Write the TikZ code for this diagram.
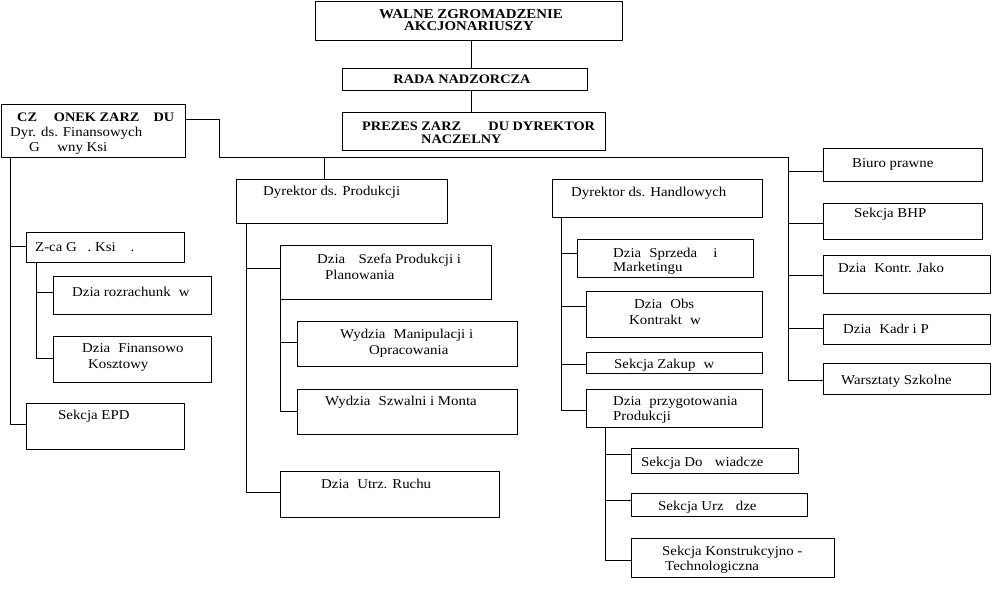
\documentclass[tikz,border=0pt]{standalone}
\usepackage{fontspec}
\setmainfont[FakeStretch=1.1]{Liberation Serif}
\newcommand\obox[5]{\node[box, minimum width={(#4-#2)*1pt}, minimum height={(#5-#3)*1pt}] (#1) at ({(#2+#4)/2},{(#3+#5)/2}) {};}
\newcommand\tx[4]{\node[txt] (#1) at (#2,{#3+4.5}) {#4};}
\newcommand\btx[4]{\node[btxt] (#1) at (#2,{#3+4.5}) {#4};}
\newcommand\br[3]{\path ([yshift=-#2pt]#1.north west) coordinate (tmp); \draw[conn] (tmp) -- (tmp -| #3);}
\begin{document}
\begin{tikzpicture}[x=1pt,y=-1pt,
  box/.style={draw, line width=0.8pt, inner sep=0pt, rectangle},
  txt/.style={anchor=base west, inner sep=0pt, font=\fontsize{13.5}{15}\selectfont},
  btxt/.style={txt, font=\fontsize{13}{15}\selectfont\bfseries},
  conn/.style={line width=0.8pt}]
\useasboundingbox[fill=white] (0,0) rectangle (996,591);
% top
\obox{walne}{315}{1}{622}{40}
\obox{rada}{342}{68}{587}{90}
\obox{prezes}{342}{112}{605}{150}
\obox{czlonek}{1}{104}{185}{157}
% left
\obox{zca}{26}{232}{184}{262}
\obox{rozr}{53}{276}{211}{314}
\obox{fin}{53}{336}{211}{382}
\obox{epd}{26}{403}{184}{449}
% production
\obox{dprod}{236}{179}{447}{223}
\obox{szef}{280}{245}{491}{299}
\obox{manip}{297}{321}{517}{366}
\obox{szwal}{297}{389}{517}{434}
\obox{utrz}{280}{471}{499}{517}
% trade
\obox{dhand}{552}{179}{762}{217}
\obox{sprz}{577}{239}{753}{277}
\obox{obsl}{586}{291}{762}{337}
\obox{zak}{586}{352}{762}{373}
\obox{przyg}{586}{389}{762}{427}
\obox{dosw}{631}{448}{798}{473}
\obox{urz}{631}{493}{807}{516}
\obox{konst}{631}{538}{834}{577}
% right
\obox{biuro}{823}{148}{982}{181}
\obox{bhp}{823}{203}{982}{239}
\obox{kontr}{823}{255}{990}{293}
\obox{kadr}{823}{314}{990}{344}
\obox{warsz}{823}{363}{990}{394}

% texts
\node[btxt, anchor=base, font=\fontsize{13.5}{15}\selectfont\bfseries] (twal1) at (471,18.5) {WALNE ZGROMADZENIE};
\node[btxt, anchor=base, font=\fontsize{13.5}{15}\selectfont\bfseries] (twal2) at (469,31) {AKCJONARIUSZY};
\node[btxt, anchor=base] (trada) at (462,84) {RADA NADZORCZA};
\btx{tprez1}{362}{126}{PREZES ZARZ\hspace{2.1em}DU DYREKTOR}
\btx{tprez2}{421}{139}{NACZELNY}
\btx{tczl1}{17}{117}{CZ\hspace{1.3em}ONEK ZARZ\hspace{1.1em}DU}
\tx{tczl2}{10}{132}{Dyr. ds. Finansowych}
\tx{tczl3}{29}{147}{G\hspace{1.3em}wny Ksi}
\tx{tzca}{35}{247}{Z-ca G\hspace{0.8em}. Ksi\hspace{1.1em}.}
\tx{trozr}{72}{292}{Dzia rozrachunk\hspace{0.6em}w}
\tx{tfin1}{82}{348}{Dzia\hspace{0.6em}Finansowo}
\tx{tfin2}{88}{364}{Kosztowy}
\tx{tepd}{58}{415}{Sekcja EPD}
\tx{tdprod}{263}{191}{Dyrektor ds. Produkcji}
\tx{tszef1}{317}{259}{Dzia\hspace{1em}Szefa Produkcji i}
\tx{tszef2}{325}{275}{Planowania}
\tx{tman1}{340}{334}{Wydzia\hspace{0.6em}Manipulacji i}
\tx{tman2}{369}{350}{Opracowania}
\tx{tszw}{325}{401}{Wydzia\hspace{0.6em}Szwalni i Monta}
\tx{tutrz}{321}{484}{Dzia\hspace{0.6em}Utrz. Ruchu}
\tx{tdhand}{571}{192}{Dyrektor ds. Handlowych}
\tx{tsprz1}{613}{253}{Dzia\hspace{0.6em}Sprzeda\hspace{1.2em}i}
\tx{tsprz2}{613}{267}{Marketingu}
\tx{tobs1}{634}{304}{Dzia\hspace{0.6em}Obs}
\tx{tobs2}{629}{320}{Kontrakt\hspace{0.6em}w}
\tx{tzak}{614}{364}{Sekcja Zakup\hspace{0.6em}w}
\tx{tprz1}{613}{401}{Dzia\hspace{0.6em}przygotowania}
\tx{tprz2}{613}{416}{Produkcji}
\tx{tdosw}{641}{462}{Sekcja Do\hspace{0.9em}wiadcze}
\tx{turz}{658}{506}{Sekcja Urz\hspace{0.9em}dze}
\tx{tkon1}{662}{551}{Sekcja Konstrukcyjno -}
\tx{tkon2}{665}{566}{Technologiczna}
\tx{tbiuro}{852}{163}{Biuro prawne}
\tx{tbhp}{854}{213}{Sekcja BHP}
\tx{tkontr}{838}{268}{Dzia\hspace{0.6em}Kontr. Jako}
\tx{tkadr}{843}{329}{Dzia\hspace{0.6em}Kadr i P}
\tx{twarsz}{841}{380}{Warsztaty Szkolne}

% connectors top
\draw[conn] (walne.south) ++(3,0) coordinate (w1) -- (w1 |- rada.north);
\draw[conn] (w1 |- rada.south) -- (w1 |- prezes.north);
% main line
\coordinate (hl) at (219,157);
\coordinate (rt) at (788,157);
\draw[conn] ([yshift=-16pt]czlonek.north east) -| (hl) -- (rt);
\draw[conn] (rt) |- ([yshift=-18pt]warsz.north west);
\draw[conn] (dprod.north -| 324,0) -- (324,157);
\br{biuro}{24}{rt}
\br{bhp}{21}{rt}
\br{kontr}{21}{rt}
\br{kadr}{15}{rt}
% left trunk
\coordinate (lt) at (10,157);
\draw[conn] (lt) |- ([yshift=-22pt]epd.north west);
\br{zca}{15}{lt}
\coordinate (zt) at (36,262);
\draw[conn] (zt) |- ([yshift=-23pt]fin.north west);
\br{rozr}{17}{zt}
% production trunk
\coordinate (pt) at (246,223);
\draw[conn] (pt) |- ([yshift=-22pt]utrz.north west);
\br{szef}{24}{pt}
\coordinate (st) at (280,299);
\draw[conn] (st) |- ([yshift=-23pt]szwal.north west);
\br{manip}{22}{st}
% trade trunk
\coordinate (ht) at (561,217);
\draw[conn] (ht) |- ([yshift=-22pt]przyg.north west);
\br{sprz}{15}{ht}
\br{obsl}{16}{ht}
\br{zak}{13}{ht}
\coordinate (pzt) at (605,427);
\draw[conn] (pzt) |- ([yshift=-23pt]konst.north west);
\br{dosw}{7}{pzt}
\br{urz}{8}{pzt}
\end{tikzpicture}
\end{document}
